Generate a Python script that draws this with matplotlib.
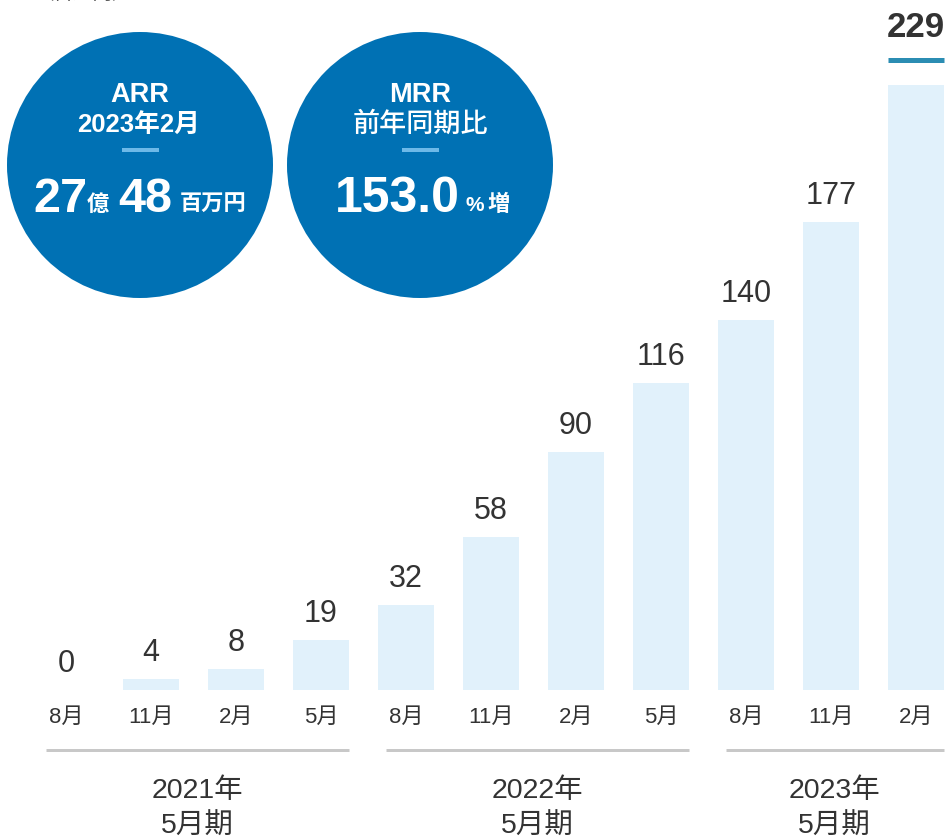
import matplotlib
matplotlib.use("Agg")
import matplotlib.pyplot as plt
from matplotlib.patches import Circle
from matplotlib.lines import Line2D
import matplotlib.transforms as mtransforms

plt.rcParams['font.family'] = ['Liberation Sans', 'Noto Sans CJK JP']

# ---- data ----
months = ["8月", "11月", "2月", "5月", "8月", "11月", "2月", "5月", "8月", "11月", "2月"]
values = [0, 4, 8, 19, 32, 58, 90, 116, 140, 177, 229]
groups = ["2021年\n5月期", "2022年\n5月期", "2023年\n5月期"]
group_start = [0, 4, 8]
group_end = [3, 7, 10]
unit_label = "（百万円）"
arr_title = ["ARR", "2023年2月"]
arr_parts = ["27", "億", "48", "百万円"]
mrr_title = ["MRR", "前年同期比"]
mrr_parts = ["153.0", "%", "増"]

W, H = 950, 839
fig = plt.figure(figsize=(W / 100, H / 100), dpi=100)

BASE = 690   # pixel of the baseline
TOP = 0
k = 2.643    # pixels per unit

ax = fig.add_axes([0, (H - BASE) / H, 1, (BASE - TOP) / H])
ax.set_xlim(-66 / 85, (W - 66) / 85)
ax.set_ylim(0, (BASE - TOP) / k)
for s in ax.spines.values():
    s.set_visible(False)
ax.set_yticks([])

x = list(range(len(values)))
ax.bar(x, values, width=56 / 85, color="#E1F1FB", zorder=1)

ax.set_xticks(x)
ax.set_xticklabels(months, fontsize=16, color="#333333")
ax.tick_params(axis="x", length=0, pad=12)

last = len(values) - 1
for i, v in enumerate(values):
    if i == last:
        ax.annotate(str(v), (i, v), xytext=(0, 48 * 0.72), textcoords="offset points",
                    ha="center", va="baseline", fontsize=25, fontweight="bold", color="#333333")
        # accent line above the last bar
        trans = mtransforms.offset_copy(ax.transData, fig=fig, x=0, y=25 * 0.72, units="points")
        ax.add_line(Line2D([i - 0.335, i + 0.335], [v, v], transform=trans,
                           color="#2B8DB3", lw=5 * 0.72, solid_capstyle="butt", clip_on=False))
    else:
        ax.annotate(str(v), (i, v), xytext=(0, 18 * 0.72), textcoords="offset points",
                    ha="center", va="baseline", fontsize=22, color="#333333")

# group brackets below the month labels
bt = mtransforms.blended_transform_factory(ax.transData, ax.transAxes)
ax_h = BASE - TOP
for lab, s, e in zip(groups, group_start, group_end):
    x0, x1 = s - 0.24, e + 0.33
    yline = -(750 - BASE) / ax_h
    ax.add_line(Line2D([x0, x1], [yline, yline], transform=bt, color="#C8C8C8",
                       lw=3 * 0.72, clip_on=False, solid_capstyle="butt"))
    ax.text((x0 + x1) / 2, -(809 - BASE) / ax_h, lab, transform=bt, ha="center", va="center",
            fontsize=20.5, color="#333333", linespacing=1.5, clip_on=False)

# ---- overlay in pixel coordinates ----
ov = fig.add_axes([0, 0, 1, 1], zorder=5)
ov.set_xlim(0, W)
ov.set_ylim(H, 0)
ov.axis("off")

ov.text(35, -1, unit_label, ha="left", va="baseline", fontsize=14, color="#555555")

circle_color = "#0071B4"
accent = "#6DB9E8"
for cx in (140, 420):
    ov.add_patch(Circle((cx, 165), 133, color=circle_color, lw=0))

# ARR circle
ov.text(140, 95, arr_title[0], ha="center", va="center", fontsize=19.5, fontweight="bold", color="white")
ov.text(139, 126, arr_title[1], ha="center", va="center", fontsize=18.5, fontweight="bold", color="white")
ov.add_line(Line2D([122, 159], [150, 150], color=accent, lw=4 * 0.72, solid_capstyle="butt"))
ov.text(60, 212, arr_parts[0], ha="center", va="baseline", fontsize=35, fontweight="bold", color="white")
ov.text(98, 211, arr_parts[1], ha="center", va="baseline", fontsize=16, fontweight="bold", color="white")
ov.text(145, 212, arr_parts[2], ha="center", va="baseline", fontsize=35, fontweight="bold", color="white")
ov.text(213, 211, arr_parts[3], ha="center", va="baseline", fontsize=16, fontweight="bold", color="white")

# MRR circle
ov.text(420, 95, mrr_title[0], ha="center", va="center", fontsize=19.5, fontweight="bold", color="white")
ov.text(420, 125, mrr_title[1], ha="center", va="center", fontsize=19.5, fontweight="medium", color="white")
ov.add_line(Line2D([402, 439], [150, 150], color=accent, lw=4 * 0.72, solid_capstyle="butt"))
ov.text(397, 212, mrr_parts[0], ha="center", va="baseline", fontsize=36, fontweight="bold", color="white")
ov.text(475, 211, mrr_parts[1], ha="center", va="baseline", fontsize=15, fontweight="bold", color="white")
ov.text(499, 211, mrr_parts[2], ha="center", va="baseline", fontsize=16, fontweight="bold", color="white")

fig.savefig("out.png", dpi=100)
